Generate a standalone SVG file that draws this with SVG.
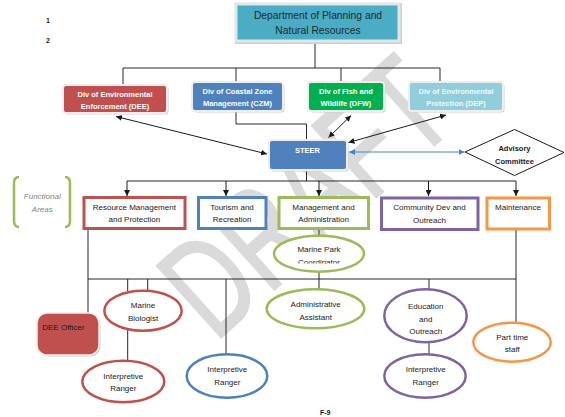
<svg xmlns="http://www.w3.org/2000/svg" width="565" height="417" viewBox="0 0 565 417">
<defs>
<style>
.f{font-family:"Liberation Sans",Arial,sans-serif}
.t{font-family:"Liberation Sans",Arial,sans-serif;font-size:8px;fill:#1a1a1a;text-anchor:middle}
.tw{font-family:"Liberation Sans",Arial,sans-serif;font-size:7.5px;font-weight:bold;fill:#ffffff;text-anchor:middle}
.ln{stroke:#262626;stroke-width:1;fill:none}
.ar{stroke:#1a1a1a;stroke-width:1;fill:none;marker-end:url(#ah)}
.ar2{stroke:#1a1a1a;stroke-width:1;fill:none;marker-end:url(#ah);marker-start:url(#ah)}
.sh{fill:#cfcfcf}
.cb{stroke:#eeeeee;stroke-width:2}
.wb{fill:#ffffff;stroke-width:3}
.el{fill:#ffffff;stroke-width:2.5}
.red{stroke:#c0504d}.blue{stroke:#4f81bd}.green{stroke:#9bbb59}.purple{stroke:#8064a2}.orange{stroke:#f79646}
</style>
<marker id="ah" viewBox="0 0 10 10" refX="10" refY="5" markerWidth="6" markerHeight="6" markerUnits="userSpaceOnUse" orient="auto-start-reverse">
<path d="M0,0 L10,5 L0,10 z" fill="#1a1a1a"/>
</marker>
<marker id="bh" viewBox="0 0 10 10" refX="10" refY="5" markerWidth="6" markerHeight="6" markerUnits="userSpaceOnUse" orient="auto-start-reverse">
<path d="M0,0 L10,5 L0,10 z" fill="#3a87d0"/>
</marker>
<clipPath id="mpc"><rect x="270" y="230" width="100" height="33.5"/></clipPath>
</defs>
<rect width="565" height="417" fill="#ffffff"/>

<g id="watermark">
<text class="f" x="0" y="0" font-size="140" fill="#dadada" stroke="#dadada" stroke-width="2" textLength="330" lengthAdjust="spacingAndGlyphs" transform="translate(215,343) rotate(-42)">DRAFT</text>
</g>

<g id="page-numbers" class="f" font-size="7" font-weight="bold" fill="#1a1a1a">
<text x="46" y="22.5">1</text>
<text x="46" y="43">2</text>
<text x="320" y="415">F-9</text>
</g>

<g id="connectors">
<path class="ln" d="M315,43 V68 M123,68 H440 M123,68 V84 M236,68 V81 M341,68 V81 M440,68 V81"/>
<path class="ln" d="M236,112 V124 H306.5 V140"/>
<line class="ar2" x1="116" y1="116.5" x2="267" y2="154"/>
<line class="ar2" x1="351" y1="115.5" x2="328.5" y2="137.5"/>
<line class="ar2" x1="446" y1="115" x2="348.5" y2="142.5"/>
<line x1="349" y1="152" x2="464.5" y2="152" stroke="#3a87d0" stroke-width="1" marker-start="url(#bh)" marker-end="url(#bh)"/>
<path class="ln" d="M306.5,171 V181 M127,181 H516"/>
<path class="ar" d="M127,181 V196"/>
<path class="ar" d="M226,181 V196"/>
<path class="ar" d="M319,181 V196"/>
<path class="ar" d="M428.5,181 V196"/>
<path class="ar" d="M516,181 V196"/>
<path class="ln" d="M88,230 V313 M88,279 H516 M127.7,279 V291 M147.7,279 V291 M127.7,330 V361 M226,279 V354.5"/>
<path class="ln" d="M319,230 V236 M319,271.5 V289.5"/>
<path class="ln" d="M429,279 V289.5 M429,342 V354.5"/>
<path class="ln" d="M516,230 V323"/>
</g>

<g id="dept">
<rect x="235" y="3" width="167" height="41" fill="#c9d0d3"/>
<rect x="234.5" y="2.5" width="166" height="40" fill="#dfe6e8"/>
<rect x="237.5" y="5.5" width="160" height="34" fill="#4bacc6"/>
<text class="f" x="318" y="18.7" font-size="10.3" fill="#1c2a30" text-anchor="middle">Department of Planning and</text>
<text class="f" x="318" y="33.7" font-size="10.3" fill="#1c2a30" text-anchor="middle">Natural Resources</text>
</g>

<g id="dee">
<rect class="sh" x="64.5" y="86.5" width="104" height="28" rx="3"/>
<rect class="cb" x="63" y="85" width="104" height="28" rx="3" fill="#c0504d"/>
<text class="tw" x="115" y="96.7">Div of Environmental</text>
<text class="tw" x="115" y="108.7">Enforcement (DEE)</text>
</g>

<g id="czm">
<rect class="sh" x="193.5" y="83.5" width="91" height="29" rx="3"/>
<rect class="cb" x="192" y="82" width="91" height="29" rx="3" fill="#4f81bd"/>
<text class="tw" x="237.5" y="93.5">Div of Coastal Zone</text>
<text class="tw" x="237.5" y="106">Management (CZM)</text>
</g>

<g id="dfw">
<rect class="sh" x="309.5" y="83.5" width="76" height="29" rx="3"/>
<rect class="cb" x="308" y="82" width="76" height="29" rx="3" fill="#00b050"/>
<text class="tw" x="346" y="93.5">Div of Fish and</text>
<text class="tw" x="346" y="106">Wildlife (DFW)</text>
</g>

<g id="dep">
<rect class="sh" x="410.5" y="83.5" width="94" height="29" rx="3"/>
<rect class="cb" x="409" y="82" width="94" height="29" rx="3" fill="#92cddc"/>
<text class="tw" x="456" y="93.5" style="fill:#f2f9fb">Div of Environmental</text>
<text class="tw" x="456" y="106" style="fill:#f2f9fb">Protection (DEP)</text>
</g>

<g id="steer">
<rect class="sh" x="270.5" y="141.5" width="78" height="30" rx="3"/>
<rect class="cb" x="269" y="140" width="78" height="30" rx="3" fill="#4f81bd"/>
<text class="tw" x="307.5" y="152.5">STEER</text>
</g>

<g id="advisory">
<polygon points="465,152 514.5,129.5 564,152.5 514.5,175.5" fill="#ffffff" stroke="#1a1a1a" stroke-width="1"/>
<text class="tw" x="514.5" y="151" style="fill:#1a1a1a">Advisory</text>
<text class="tw" x="514.5" y="163.5" style="fill:#1a1a1a">Committee</text>
</g>

<g id="functional-areas">
<path d="M19,177 Q14,177 14,183 V221 Q14,227 19,227 M65,177 Q70,177 70,183 V221 Q70,227 65,227" fill="none" stroke="#9bbb59" stroke-width="2.5"/>
<text class="f" x="42.3" y="198.8" font-size="8" font-style="italic" fill="#7f7f7f" text-anchor="middle">Functional</text>
<text class="f" x="42.3" y="212" font-size="8" font-style="italic" fill="#7f7f7f" text-anchor="middle">Areas</text>
</g>

<g id="resource">
<rect class="wb red" x="84" y="197.5" width="101" height="31"/>
<text class="t" x="134.3" y="209.5">Resource Management</text>
<text class="t" x="134.3" y="222">and Protection</text>
</g>

<g id="tourism">
<rect class="wb blue" x="198.5" y="197.5" width="67.5" height="31"/>
<text class="t" x="232" y="209.5">Tourism and</text>
<text class="t" x="232" y="222">Recreation</text>
</g>

<g id="management">
<rect class="wb green" x="279" y="197.5" width="89.5" height="31"/>
<text class="t" x="323.5" y="209.5">Management and</text>
<text class="t" x="323.5" y="222">Administration</text>
</g>

<g id="community">
<rect class="wb purple" x="381.5" y="198" width="96.5" height="31.5"/>
<text class="t" x="429.5" y="210">Community Dev and</text>
<text class="t" x="429.5" y="222.8">Outreach</text>
</g>

<g id="maintenance">
<rect class="wb orange" x="487" y="198" width="62.5" height="31"/>
<text class="t" x="518" y="209.5">Maintenance</text>
</g>

<g id="marine-park">
<ellipse class="el green" cx="319" cy="253.7" rx="45" ry="18"/>
<text class="t" x="319" y="252">Marine Park</text>
<text class="t" x="319" y="265" clip-path="url(#mpc)">Coordinator</text>
</g>

<g id="dee-officer">
<rect x="38.5" y="314.5" width="62" height="42" rx="10" fill="#cfcfcf"/>
<rect x="37" y="313" width="62" height="42" rx="10" fill="#c0504d" stroke="#eeeeee" stroke-width="1.5"/>
<text class="t" x="63.3" y="330">DEE Officer</text>
</g>

<g id="marine-biologist">
<ellipse class="el red" cx="143" cy="310.7" rx="38.7" ry="20"/>
<text class="t" x="143" y="308">Marine</text>
<text class="t" x="143" y="321">Biologist</text>
</g>

<g id="ranger-red">
<ellipse class="el red" cx="123.3" cy="381.5" rx="41" ry="20.8"/>
<text class="t" x="123.3" y="378.5">Interpretive</text>
<text class="t" x="123.3" y="391">Ranger</text>
</g>

<g id="ranger-blue">
<ellipse class="el blue" cx="227" cy="376" rx="40.3" ry="21.7"/>
<text class="t" x="227.3" y="372">Interpretive</text>
<text class="t" x="227.3" y="384.5">Ranger</text>
</g>

<g id="admin-assistant">
<ellipse class="el green" cx="315.5" cy="308.8" rx="48.8" ry="19.5"/>
<text class="t" x="315.7" y="306.8">Administrative</text>
<text class="t" x="315.7" y="319.5">Assistant</text>
</g>

<g id="education">
<ellipse class="el purple" cx="425.5" cy="315.8" rx="41.2" ry="26.5"/>
<text class="t" x="425.7" y="308.8">Education</text>
<text class="t" x="425.7" y="321.8">and</text>
<text class="t" x="425.7" y="333.5">Outreach</text>
</g>

<g id="ranger-purple">
<ellipse class="el purple" cx="425" cy="376" rx="40.7" ry="21.7"/>
<text class="t" x="425.7" y="372">Interpretive</text>
<text class="t" x="425.7" y="384.5">Ranger</text>
</g>

<g id="part-time">
<ellipse class="el orange" cx="512" cy="342.2" rx="38.7" ry="19.5"/>
<text class="t" x="512.3" y="339.8">Part time</text>
<text class="t" x="512.3" y="352">staff</text>
</g>
</svg>
